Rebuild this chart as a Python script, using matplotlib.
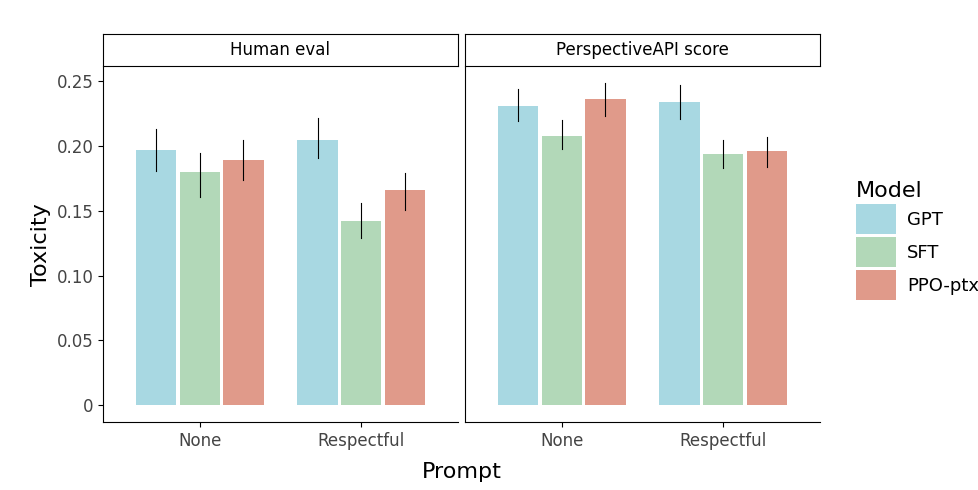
import matplotlib
matplotlib.use("Agg")
import matplotlib.pyplot as plt
import numpy as np

panels = ["Human eval", "PerspectiveAPI score"]
prompts = ["None", "Respectful"]
models = ["GPT", "SFT", "PPO-ptx"]
colors = ["#A8D8E2", "#B2D8B8", "#E09A8A"]
# values[panel][prompt][model]
values = [[[0.197, 0.180, 0.189], [0.205, 0.142, 0.166]],
          [[0.231, 0.208, 0.236], [0.234, 0.194, 0.196]]]
lo = [[[0.181, 0.161, 0.174], [0.191, 0.129, 0.151]],
      [[0.219, 0.198, 0.223], [0.221, 0.183, 0.184]]]
hi = [[[0.213, 0.195, 0.205], [0.222, 0.156, 0.179]],
      [[0.244, 0.220, 0.249], [0.247, 0.205, 0.207]]]

fig = plt.figure(figsize=(9.79, 4.90), dpi=100)
W, H = 979, 490
axes = []
for p, x0 in enumerate([103, 465]):
    ax = fig.add_axes([x0 / W, 1 - 422 / H, 355 / W, 355 / H])
    axes.append(ax)
    for g in range(2):
        for m in range(3):
            x = g + 1 + (m - 1) * 0.27
            v = values[p][g][m]
            ax.bar(x, v, width=0.25, color=colors[m], label=models[m] if (p == 0 and g == 0) else None)
            ax.plot([x, x], [lo[p][g][m], hi[p][g][m]], color="black", lw=0.8)
    ax.set_xlim(0.4, 2.6)
    ax.set_ylim(-0.013, 0.261)
    ax.set_xticks([1, 2])
    ax.set_xticklabels(prompts, fontsize=12, color="#444444")
    ax.set_yticks([0, 0.05, 0.10, 0.15, 0.20, 0.25])
    if p == 0:
        ax.set_yticklabels(["0", "0.05", "0.10", "0.15", "0.20", "0.25"], fontsize=12, color="#444444")
        ax.set_ylabel("Toxicity", fontsize=16)
    else:
        ax.set_yticklabels([])
        ax.tick_params(axis="y", length=0)
    for s in ["top", "right"]:
        ax.spines[s].set_visible(False)
    for s in ["left", "bottom"]:
        ax.spines[s].set_linewidth(0.8)
    sax = fig.add_axes([x0 / W, 1 - 66 / H, 355 / W, 32 / H])
    sax.set_xticks([]); sax.set_yticks([])
    sax.text(0.5, 0.5, panels[p], ha="center", va="center", fontsize=12, transform=sax.transAxes)

fig.text((103 + 820) / 2 / W, 1 - 472 / H, "Prompt", ha="center", va="center", fontsize=16)
leg = fig.legend(loc="upper left", bbox_to_anchor=(840 / W, 1 - 165 / H), frameon=False,
                 title="Model", fontsize=13, title_fontsize=16, handlelength=2.2, handleheight=2.2,
                 labelspacing=0.15, handletextpad=0.6)
leg._legend_box.align = "left"
fig.savefig("out.png", dpi=100)
